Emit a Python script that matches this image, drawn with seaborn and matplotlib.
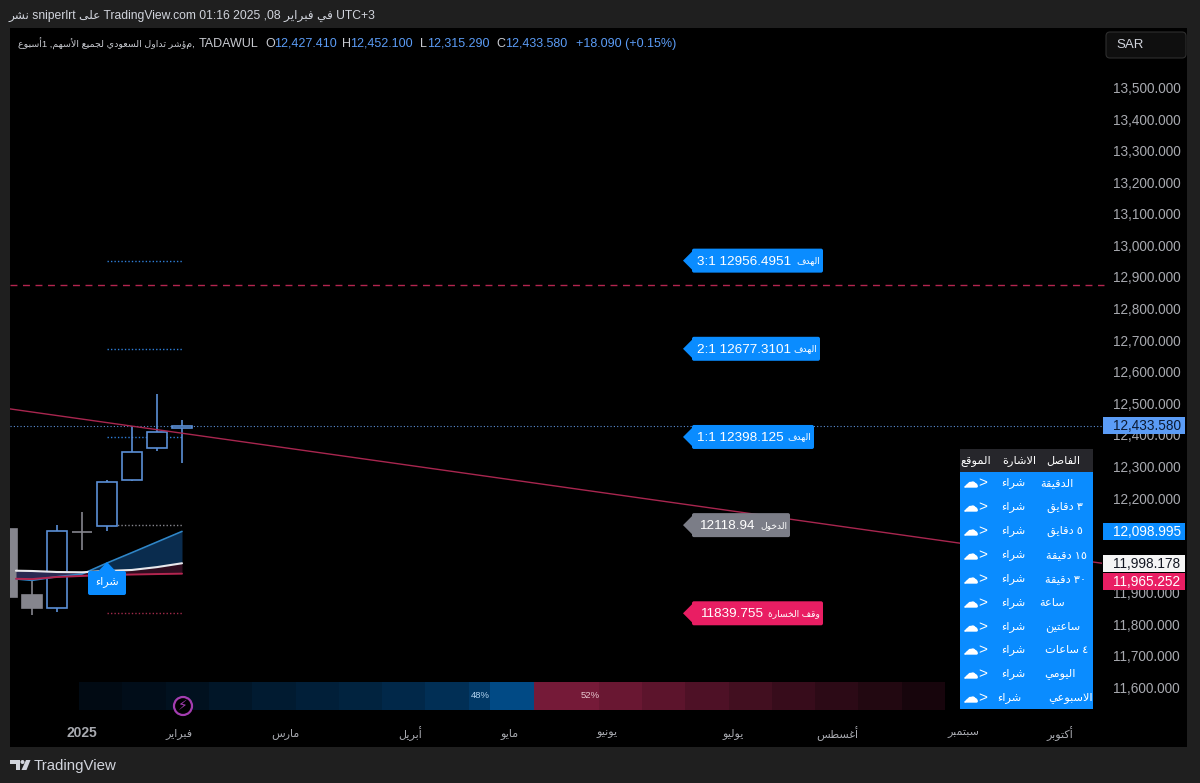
import matplotlib
matplotlib.use("Agg")
import matplotlib.pyplot as plt
from matplotlib.colors import LinearSegmentedColormap
from matplotlib.patches import Circle, FancyBboxPatch, Polygon, Rectangle
import matplotlib.patheffects as pe
import numpy as np
import seaborn as sns

# ---- Data ----
candle_x = [-1, 0, 1, 2, 3, 4, 5, 6]
candle_open = [12107, 11897.7, 11857, 12098.5, 12117.4, 12262, 12364, 12427.41]
candle_high = [12107, 11974.6, 12119, 12160, 12262, 12433, 12534, 12452.1]
candle_low = [11891, 11835, 11844, 12040, 12100, 12258.6, 12354, 12315.29]
candle_close = [11891, 11857.5, 12100, 12098, 12254.6, 12351, 12414, 12433.58]

ema_x = [-0.64, 0, 1, 2, 3, 4, 5, 6]
ema_blue = [11948.3, 11944, 11955.6, 11964, 11999, 12032, 12065.5, 12098.995]
ema_white = [11974.6, 11973.7, 11970.5, 11969.6, 11973.7, 11977, 11986, 11998.178]
ema_red = [11949, 11948, 11954.7, 11958, 11961, 11962.5, 11964, 11965.252]

trend_x = [-0.88, 42.8]
trend_y = [12487, 11998.178]
dashed_level = 12879
last_price = 12433.58

target_levels = [12956.4951, 12677.3101, 12398.125]
target_names = ["3:1 12956.4951", "2:1 12677.3101", "1:1 12398.125"]
target_right = [823, 820, 814]
entry_level = 12118.94
stop_level = 11839.755

price_ticks = list(range(11600, 13600, 100))
month_pos = [2.0, 5.88, 10.12, 15.12, 19.12, 23.0, 28.04, 32.2, 37.24, 41.12]
month_names = ["2025", "فبراير", "مارس", "أبريل", "مايو", "يونيو", "يوليو", "أغسطس", "سبتمبر", "أكتوبر"]

blue_strength = [.05, .05, .10, .10, .15, .15, .22, .22, .30, .30, .36, .36, .42, .42, .50, .50, .60, .60, .75, 1, 1]
red_strength = [1, 1, 1, .88, .88, .75, .75, .62, .62, .50, .50, .40, .40, .30, .30, .20, .20, .10, .10]

table_names = ["الدقيقة", "٣ دقايق", "٥ دقايق", "١٥ دقيقة", "٣٠ دقيقة", "ساعة", "ساعتين", "٤ ساعات", "اليومي", "الاسبوعي"]
table_name_x = [1057, 1065, 1065, 1066, 1066, 1052, 1063, 1067, 1060, 1071]
table_row_y = [483, 507, 531, 555, 579, 603, 627, 650, 674, 698]

# ---- matplotlib does no Arabic shaping, so pick the joined forms by hand ----
FOUR = {"ب": 0xFE8F, "ت": 0xFE95, "ث": 0xFE99, "ج": 0xFE9D, "ح": 0xFEA1, "خ": 0xFEA5, "س": 0xFEB1,
        "ش": 0xFEB5, "ص": 0xFEB9, "ض": 0xFEBD, "ط": 0xFEC1, "ظ": 0xFEC5, "ع": 0xFEC9, "غ": 0xFECD,
        "ف": 0xFED1, "ق": 0xFED5, "ك": 0xFED9, "ل": 0xFEDD, "م": 0xFEE1, "ن": 0xFEE5, "ه": 0xFEE9, "ي": 0xFEF1}
TWO = {"آ": 0xFE81, "أ": 0xFE83, "إ": 0xFE87, "ا": 0xFE8D, "ة": 0xFE93, "د": 0xFEA9, "ذ": 0xFEAB,
       "ر": 0xFEAD, "ز": 0xFEAF, "و": 0xFEED, "ى": 0xFEEF}
LAM_ALEF = {"آ": 0xFEF5, "أ": 0xFEF7, "إ": 0xFEF9, "ا": 0xFEFB}


def shape_word(word):
    if not any(c in FOUR or c in TWO or c == "ء" for c in word):
        return word
    out = []
    joined = False
    i = 0
    while i < len(word):
        c = word[i]
        nxt = word[i + 1] if i + 1 < len(word) else ""
        if c == "ل" and nxt in LAM_ALEF:
            out.append(chr(LAM_ALEF[nxt] + int(joined)))
            joined = False
            i += 2
            continue
        if c in FOUR:
            goes_on = nxt in FOUR or nxt in TWO
            form = (1 if joined and not goes_on else 3 if joined else 2 if goes_on else 0)
            out.append(chr(FOUR[c] + form))
            joined = goes_on
        elif c in TWO:
            out.append(chr(TWO[c] + int(joined)))
            joined = False
        else:
            out.append("\ufe80" if c == "ء" else c)
            joined = False
        i += 1
    return "".join(reversed(out))


def ar(text):
    return " ".join(shape_word(w) for w in reversed(text.split(" ")))


# ---- Theme ----
sns.set_theme(style="dark")
FONT = ["Liberation Sans", "DejaVu Sans"]
plt.rcParams["font.family"] = FONT
plt.rcParams["axes.unicode_minus"] = False

BG = "#1f1f1f"
BLUE = "#0a8cff"
CANDLE = "#5b8fd6"
GREY = "#85858d"
TICK = "#a8aab0"
PINK = "#e91e63"

W, H = 1200, 783
fig = plt.figure(figsize=(12, 7.83), dpi=100, facecolor=BG)

# whole figure in pixels, for the panel behind the axes and everything on top of it
back = fig.add_axes([0, 0, 1, 1], zorder=0)
back.set_xlim(0, W)
back.set_ylim(H, 0)
back.axis("off")
back.add_patch(Rectangle((10, 28), 1177, 719, fc="#000000", ec="none"))

# ---- Price axes ----
LEFT, RIGHT, TOP, BOTTOM = 10, 1102, 28, 722
px_per_unit = 0.31579
ymax = 13500 + (89 - TOP) / px_per_unit
ymin = 13500 - (BOTTOM - 89) / px_per_unit

ax = fig.add_axes([LEFT / W, 1 - BOTTOM / H, (RIGHT - LEFT) / W, (BOTTOM - TOP) / H], zorder=1)
ax.set_facecolor("none")
ax.set_xlim(-0.88, 42.8)
ax.set_ylim(ymin, ymax)
ax.grid(False)
for s in ax.spines.values():
    s.set_visible(False)


def ypx(price):
    return TOP + (ymax - price) / (ymax - ymin) * (BOTTOM - TOP)


def xpx(i):
    return LEFT + (i - ax.get_xlim()[0]) / (ax.get_xlim()[1] - ax.get_xlim()[0]) * (RIGHT - LEFT)


ax.yaxis.tick_right()
ax.set_yticks(price_ticks)
ax.set_yticklabels([f"{p:,.3f}" for p in price_ticks], color=TICK, fontsize=9.8, va="center")
ax.tick_params(axis="y", length=0, pad=8)
ax.set_xticks(month_pos)
ax.set_xticklabels([ar(m) for m in month_names], color=TICK, fontsize=8, va="center")
ax.tick_params(axis="x", length=0, pad=8)
year_label = ax.get_xticklabels()[0]
year_label.set_fontweight("bold")
year_label.set_fontsize(10)

# levels
ax.axhline(last_price, color=CANDLE, lw=0.8, ls=(0, (1, 2)), zorder=1)
ax.plot([-0.88, 42.88], [dashed_level] * 2, color="#b3254f", lw=1, ls=(0, (5, 4)), clip_on=False, zorder=1)
for level in target_levels:
    ax.plot([3, 6], [level, level], color="#2f7fd8", lw=1, ls=(0, (1, 1.5)), zorder=1)
ax.plot([3, 6], [entry_level] * 2, color=GREY, lw=1, ls=(0, (1, 1.5)), zorder=1)
ax.plot([3, 6], [stop_level] * 2, color="#a02a4a", lw=1, ls=(0, (1, 1.5)), zorder=1)

# candles
for x, o, hi, lo, c in zip(candle_x, candle_open, candle_high, candle_low, candle_close):
    col = CANDLE if c >= o else GREY
    ax.vlines(x, lo, hi, color=col, lw=1.2, zorder=2)
    ax.bar(x, abs(c - o), bottom=min(o, c), width=0.8, fc="#000000" if c >= o else col, ec=col, lw=1.2, zorder=3)

# moving averages
xs = np.array(ema_x)
blue, white, red = np.array(ema_blue), np.array(ema_white), np.array(ema_red)
ax.fill_between(xs, blue, white, where=blue >= white, interpolate=True, color="#0a2c4e", lw=0, zorder=4)
ax.fill_between(xs, white, red, where=xs <= 2, color="#2a2a52", lw=0, zorder=4)
ax.fill_between(xs, white, red, where=xs >= 2, color="#300d20", lw=0, zorder=4)
sns.lineplot(x=ema_x, y=ema_blue, color="#2f86c8", lw=1.2, errorbar=None, legend=False, ax=ax, zorder=5)
sns.lineplot(x=ema_x, y=ema_red, color="#b3254f", lw=1.4, errorbar=None, legend=False, ax=ax, zorder=5)
sns.lineplot(x=ema_x, y=ema_white, color="#e8e8ec", lw=1.5, errorbar=None, legend=False, ax=ax, zorder=6)
sns.lineplot(x=trend_x, y=trend_y, color="#a8264f", lw=1.0, errorbar=None, legend=False, ax=ax, zorder=6)

# ---- Everything drawn on top, in pixels ----
ov = fig.add_axes([0, 0, 1, 1], zorder=3)
ov.set_xlim(0, W)
ov.set_ylim(H, 0)
ov.axis("off")
ov.patch.set_alpha(0)


def box(x0, y0, x1, y1, color, r=2, edge="none"):
    ov.add_patch(FancyBboxPatch((x0 + r, y0 + r), x1 - x0 - 2 * r, y1 - y0 - 2 * r,
                                boxstyle=f"round,pad={r},rounding_size={r}", fc=color, ec=edge, lw=0.8))


def level_tag(price, x1, color, number, label, number_x=697):
    y = ypx(price)
    box(692, y - 12, x1, y + 12, color)
    ov.add_patch(Polygon([(692, y - 9), (683, y), (692, y + 9)], fc=color, ec="none"))
    ov.text(number_x, y - 0.5, number, color="white", fontsize=9.7, va="center_baseline", ha="left")
    ov.text(x1 - 3, y, ar(label), color="white", fontsize=6.6, va="center", ha="right")


for level, name, x1 in zip(target_levels, target_names, target_right):
    level_tag(level, x1, BLUE, name, "الهدف")
level_tag(entry_level, 790, "#7b7d87", "12118.94", "الدخول", number_x=699)
level_tag(stop_level, 823, PINK, "11839.755", "وقف الخسارة", number_x=700)

# buy marker
bx = xpx(3)
box(bx - 19, 571, bx + 19, 595, BLUE)
ov.add_patch(Polygon([(bx - 9, 571.5), (bx, 562), (bx + 9, 571.5)], fc=BLUE, ec="none"))
ov.text(bx, 582, ar("شراء"), color="white", fontsize=8, ha="center", va="center")

# price tags on the scale, the last one pushed down clear of the one above it
for price, bg, fg, nudge in [(last_price, "#5b9cf6", "#0c1a33", 0), (12098.995, BLUE, "white", 0),
                             (11998.178, "#f5f5f5", "#131722", 0), (11965.252, PINK, "white", 8)]:
    y = ypx(price) + nudge
    ov.add_patch(Rectangle((1103, y - 8.5), 82, 17, fc=bg, ec="none"))
    ov.text(1113, y - 1, f"{price:,.3f}", color=fg, fontsize=9.8, va="center_baseline", ha="left")

# header and legend row
ov.text(8, 16, f"{ar('نشر')} sniperlrt {ar('على')} TradingView.com 01:16 2025 ,08 {ar('في فبراير')} UTC+3",
        color="#d1d4dc", fontsize=8.7, va="center")
ov.text(18, 44, f"{ar('أسبوع')}1 ,{ar('مؤشر تداول السعودي لجميع الأسهم')},",
        color="#c8cad0", fontsize=6.8, va="center")
ov.text(199, 44, "TADAWUL", color="#c8cad0", fontsize=9, va="center")
for x, letter in [(265, "O"), (342, "H"), (420, "L"), (496, "C")]:
    ov.text(x, 44, letter, color="#c8cad0", fontsize=9, va="center")
for x, val in [(274, "12,427.410"), (350, "12,452.100"), (427, "12,315.290"), (505, "12,433.580"),
               (576, "+18.090 (+0.15%)")]:
    ov.text(x, 44, val, color="#5b9cf6", fontsize=9, va="center")

box(1106, 32, 1186, 58, "#0f0f0f", r=4, edge="#2e2e2e")
ov.text(1116, 44.5, "SAR", color="#d1d4dc", fontsize=9.5, va="center")

# lightning badge
ov.add_patch(Circle((183, 706), 9, fc="#000000", ec="#a33db0", lw=1.6))
ov.text(183, 706, "\u26a1", color="#a33db0", fontsize=10, ha="center", va="center", family="DejaVu Sans")

# ---- Sentiment strip ----
strip = np.array([[-v for v in blue_strength] + red_strength])
strip_cmap = LinearSegmentedColormap.from_list(
    "strip", [(0, "#014a85"), (0.499, "#01070d"), (0.5, "#0d0307"), (1, "#751a38")])
hx = fig.add_axes([79 / W, 1 - 710 / H, 866 / W, 28 / H], zorder=2)
sns.heatmap(strip, cmap=strip_cmap, vmin=-1, vmax=1, cbar=False, xticklabels=False, yticklabels=False, ax=hx)
ov.text(480, 695, "48%", color="#b3d4f0", fontsize=6.8, ha="center", va="center")
ov.text(590, 695, "52%", color="#e8c8d0", fontsize=6.8, ha="center", va="center")

# ---- Signal table ----
ov.add_patch(Rectangle((960, 449), 133, 23, fc="#26262b", ec="none"))
ov.add_patch(Rectangle((960, 472), 133, 237, fc=BLUE, ec="none"))
for x, head in [(1063, "الفاصل"), (1019, "الاشارة"), (976, "الموقع")]:
    ov.text(x, 460.5, ar(head), color="white", fontsize=8.2, ha="center", va="center")
fat = [pe.withStroke(linewidth=0.9, foreground="white")]
for row, (name, nx, y) in enumerate(zip(table_names, table_name_x, table_row_y)):
    ov.text(nx, y, ar(name), color="white", fontsize=8.2, ha="center", va="center")
    ov.text(1009 if row == 9 else 1013, y, ar("شراء"), color="white", fontsize=8.2, ha="center", va="center")
    ov.text(971, y, "\u2601", color="white", fontsize=10, ha="center", va="center", family="DejaVu Sans",
            path_effects=fat)
    ov.text(983, y, ">", color="white", fontsize=11, ha="center", va="center")

# ---- Footer logo ----
ov.add_patch(Polygon([(10, 760), (20, 760), (20, 770), (15.5, 770), (15.5, 764), (10, 764)], fc="#d1d4dc", ec="none"))
ov.add_patch(Circle((22.5, 762), 2, fc="#d1d4dc", ec="none"))
ov.add_patch(Polygon([(26, 760), (30.5, 760), (26.5, 770), (21.5, 770)], fc="#d1d4dc", ec="none"))
ov.text(34, 766, "TradingView", color="#d1d4dc", fontsize=10.8, va="center")

fig.savefig("out.png", dpi=100, facecolor=BG)
